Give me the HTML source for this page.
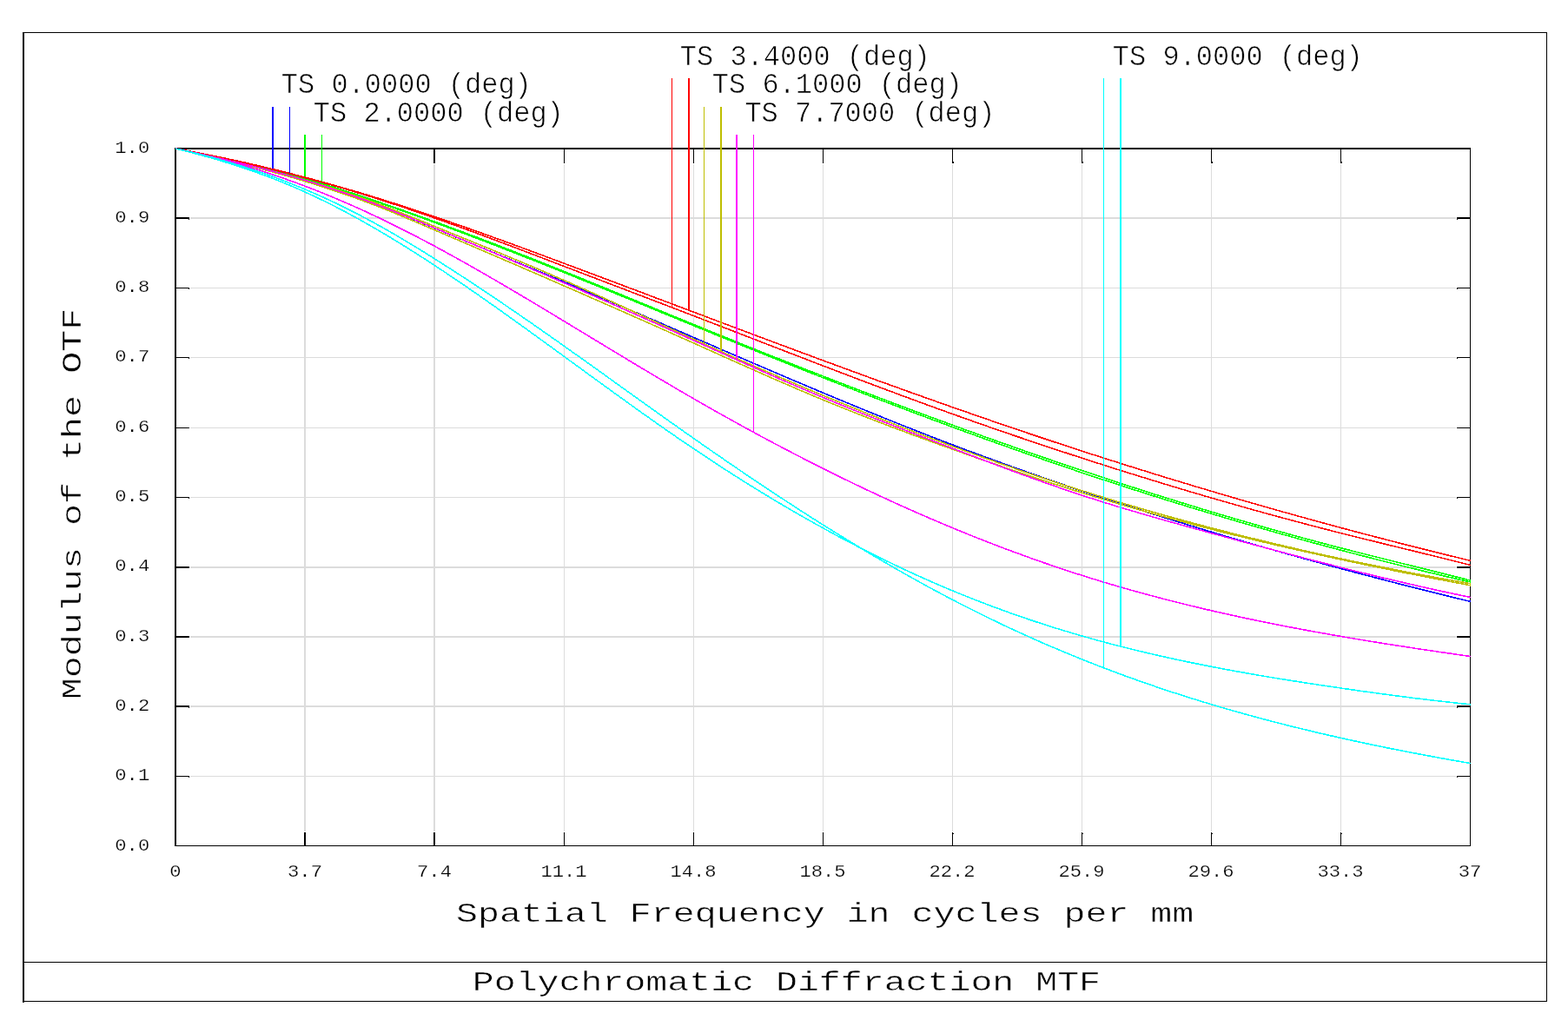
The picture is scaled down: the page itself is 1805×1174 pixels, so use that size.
<!DOCTYPE html>
<html lang="en"><head><meta charset="utf-8"><title>Polychromatic Diffraction MTF</title>
<style>
html,body{margin:0;padding:0;background:#fff}
svg{display:block}
text{font-family:"Liberation Mono","DejaVu Sans Mono",monospace;fill:#000}
.big{font-size:33px;stroke:#fff;stroke-width:0.6px}
.ax{font-size:32px;stroke:#fff;stroke-width:0.45px}
.tk{font-size:21px;stroke:#fff;stroke-width:0.25px}
.cv{fill:none;stroke-width:1.6;stroke-linejoin:round}
</style></head><body>
<svg width="1805" height="1174" viewBox="0 0 1805 1174" role="img" aria-label="Polychromatic Diffraction MTF plot">
<rect width="1805" height="1174" fill="#fff"/>
<g shape-rendering="crispEdges">
<rect x="26" y="37" width="2" height="1117" fill="#000"/>
<rect x="26" y="37" width="1755" height="1" fill="#000"/>
<rect x="1780" y="37" width="1" height="1116" fill="#000"/>
<rect x="26" y="1152" width="1755" height="1" fill="#000"/>
<rect x="26" y="1107" width="1755" height="1" fill="#000"/>
<rect x="350" y="189" width="2" height="768" fill="#dcdcdc"/>
<rect x="499" y="189" width="2" height="768" fill="#dcdcdc"/>
<rect x="649" y="189" width="1" height="768" fill="#dcdcdc"/>
<rect x="798" y="189" width="1" height="768" fill="#dcdcdc"/>
<rect x="947" y="189" width="1" height="768" fill="#dcdcdc"/>
<rect x="1096" y="189" width="1" height="768" fill="#dcdcdc"/>
<rect x="1245" y="189" width="1" height="768" fill="#dcdcdc"/>
<rect x="1394" y="189" width="1" height="768" fill="#dcdcdc"/>
<rect x="1543" y="189" width="1" height="768" fill="#dcdcdc"/>
<rect x="219" y="893" width="1457" height="1" fill="#dcdcdc"/>
<rect x="219" y="812" width="1457" height="2" fill="#dcdcdc"/>
<rect x="219" y="732" width="1457" height="2" fill="#dcdcdc"/>
<rect x="219" y="652" width="1457" height="2" fill="#dcdcdc"/>
<rect x="219" y="572" width="1457" height="1" fill="#dcdcdc"/>
<rect x="219" y="492" width="1457" height="1" fill="#dcdcdc"/>
<rect x="219" y="411" width="1457" height="1" fill="#dcdcdc"/>
<rect x="219" y="331" width="1457" height="1" fill="#dcdcdc"/>
<rect x="219" y="250" width="1457" height="2" fill="#dcdcdc"/>
<rect x="350" y="172" width="2" height="16" fill="#000"/>
<rect x="350" y="958" width="2" height="15" fill="#000"/>
<rect x="499" y="172" width="2" height="16" fill="#000"/>
<rect x="499" y="958" width="2" height="15" fill="#000"/>
<rect x="649" y="172" width="1" height="16" fill="#000"/>
<rect x="649" y="958" width="1" height="15" fill="#000"/>
<rect x="798" y="172" width="1" height="16" fill="#000"/>
<rect x="798" y="958" width="1" height="15" fill="#000"/>
<rect x="947" y="172" width="1" height="16" fill="#000"/>
<rect x="947" y="958" width="1" height="15" fill="#000"/>
<rect x="1096" y="172" width="1" height="16" fill="#000"/>
<rect x="1097" y="186" width="1" height="2" fill="#000"/>
<rect x="1096" y="958" width="1" height="15" fill="#000"/>
<rect x="1097" y="959" width="1" height="1" fill="#000"/>
<rect x="1245" y="172" width="1" height="16" fill="#000"/>
<rect x="1246" y="186" width="1" height="2" fill="#000"/>
<rect x="1245" y="958" width="1" height="15" fill="#000"/>
<rect x="1246" y="959" width="1" height="1" fill="#000"/>
<rect x="1394" y="172" width="1" height="16" fill="#000"/>
<rect x="1395" y="186" width="1" height="2" fill="#000"/>
<rect x="1394" y="958" width="1" height="15" fill="#000"/>
<rect x="1395" y="959" width="1" height="1" fill="#000"/>
<rect x="1543" y="172" width="1" height="16" fill="#000"/>
<rect x="1544" y="186" width="1" height="2" fill="#000"/>
<rect x="1543" y="958" width="1" height="15" fill="#000"/>
<rect x="1544" y="959" width="1" height="1" fill="#000"/>
<rect x="203" y="893" width="15" height="1" fill="#000"/>
<rect x="217" y="894" width="1" height="1" fill="#000"/>
<rect x="1677" y="893" width="15" height="1" fill="#000"/>
<rect x="1677" y="894" width="1" height="1" fill="#000"/>
<rect x="203" y="812" width="15" height="2" fill="#000"/>
<rect x="217" y="814" width="1" height="1" fill="#000"/>
<rect x="1677" y="812" width="15" height="2" fill="#000"/>
<rect x="1677" y="814" width="1" height="1" fill="#000"/>
<rect x="203" y="732" width="15" height="2" fill="#000"/>
<rect x="1677" y="732" width="15" height="2" fill="#000"/>
<rect x="203" y="652" width="15" height="2" fill="#000"/>
<rect x="1677" y="652" width="15" height="2" fill="#000"/>
<rect x="203" y="572" width="15" height="1" fill="#000"/>
<rect x="217" y="573" width="1" height="1" fill="#000"/>
<rect x="1677" y="572" width="15" height="1" fill="#000"/>
<rect x="1677" y="573" width="1" height="1" fill="#000"/>
<rect x="203" y="492" width="15" height="1" fill="#000"/>
<rect x="1677" y="492" width="15" height="1" fill="#000"/>
<rect x="203" y="411" width="15" height="1" fill="#000"/>
<rect x="217" y="412" width="1" height="1" fill="#000"/>
<rect x="1677" y="411" width="15" height="1" fill="#000"/>
<rect x="1677" y="412" width="1" height="1" fill="#000"/>
<rect x="203" y="331" width="15" height="1" fill="#000"/>
<rect x="217" y="332" width="1" height="1" fill="#000"/>
<rect x="1677" y="331" width="15" height="1" fill="#000"/>
<rect x="1677" y="332" width="1" height="1" fill="#000"/>
<rect x="203" y="250" width="15" height="2" fill="#000"/>
<rect x="217" y="252" width="1" height="1" fill="#000"/>
<rect x="1677" y="250" width="15" height="2" fill="#000"/>
<rect x="1677" y="252" width="1" height="1" fill="#000"/>
<rect x="201" y="170" width="2" height="804" fill="#000"/>
<rect x="201" y="170" width="1492" height="2" fill="#000"/>
<rect x="1692" y="170" width="1" height="804" fill="#000"/>
<rect x="201" y="973" width="1492" height="1" fill="#000"/>
<polyline class="cv" stroke="#0000ff" points="202,171 205,171.7 208,172.3 211,173 214,173.6 217,174.3 220,174.9 223,175.6 226,176.3 229,176.9 232,177.6 235,178.3 238,178.9 241,179.6 244,180.3 247,181 250,181.7 253,182.3 256,183 259,183.7 262,184.4 265,185.1 268,185.8 271,186.5 274,187.3 277,188 280,188.7 283,189.4 286,190.2 289,190.9 292,191.6 295,192.4 298,193.1 301,193.9 304,194.7 307,195.4 310,196.2 313,197 316,197.8 319,198.6 322,199.4 325,200.2 328,201 331,201.8 334,202.7 337,203.5 340,204.3 343,205.2 346,206 349,206.9 352,207.8 355,208.7 358,209.6 361,210.5 364,211.4 367,212.3 370,213.2 373,214.2 376,215.1 379,216.1 382,217 385,218 388,219 391,220 394,221 397,222 400,223 403,224.1 406,225.1 409,226.2 412,227.2 415,228.3 418,229.4 421,230.5 424,231.6 427,232.8 430,233.9 433,235 436,236.2 439,237.4 442,238.6 445,239.8 448,240.9 451,242.2 454,243.4 457,244.6 460,245.8 463,247 466,248.3 469,249.5 472,250.8 475,252 478,253.3 481,254.5 484,255.8 487,257 490,258.3 493,259.6 496,260.8 499,262.1 502,263.3 505,264.6 508,265.8 511,267.1 514,268.3 517,269.6 520,270.8 523,272.1 526,273.3 529,274.6 532,275.8 535,277.1 538,278.3 541,279.5 544,280.8 547,282 550,283.3 553,284.5 556,285.7 559,287 562,288.2 565,289.5 568,290.7 571,291.9 574,293.2 577,294.4 580,295.7 583,296.9 586,298.1 589,299.4 592,300.6 595,301.9 598,303.1 601,304.3 604,305.6 607,306.8 610,308.1 613,309.3 616,310.5 619,311.8 622,313 625,314.3 628,315.5 631,316.8 634,318 637,319.3 640,320.5 643,321.8 646,323.1 649,324.3 652,325.6 655,326.8 658,328.1 661,329.4 664,330.6 667,331.9 670,333.2 673,334.4 676,335.7 679,337 682,338.3 685,339.5 688,340.8 691,342.1 694,343.4 697,344.6 700,345.9 703,347.2 706,348.5 709,349.8 712,351.1 715,352.4 718,353.6 721,354.9 724,356.2 727,357.5 730,358.8 733,360.1 736,361.4 739,362.7 742,364 745,365.3 748,366.6 751,367.8 754,369.1 757,370.4 760,371.7 763,373 766,374.3 769,375.6 772,376.9 775,378.2 778,379.5 781,380.8 784,382.1 787,383.4 790,384.7 793,386 796,387.3 799,388.6 802,389.9 805,391.2 808,392.5 811,393.8 814,395.1 817,396.4 820,397.7 823,399 826,400.3 829,401.6 832,402.9 835,404.2 838,405.5 841,406.8 844,408 847,409.3 850,410.6 853,411.9 856,413.2 859,414.5 862,415.8 865,417.1 868,418.4 871,419.7 874,420.9 877,422.2 880,423.5 883,424.8 886,426.1 889,427.4 892,428.7 895,429.9 898,431.2 901,432.5 904,433.8 907,435 910,436.3 913,437.6 916,438.9 919,440.1 922,441.4 925,442.7 928,443.9 931,445.2 934,446.5 937,447.7 940,449 943,450.3 946,451.5 949,452.8 952,454 955,455.3 958,456.5 961,457.8 964,459 967,460.3 970,461.5 973,462.8 976,464 979,465.2 982,466.5 985,467.7 988,468.9 991,470.2 994,471.4 997,472.6 1000,473.9 1003,475.1 1006,476.3 1009,477.5 1012,478.7 1015,480 1018,481.2 1021,482.4 1024,483.6 1027,484.8 1030,486 1033,487.2 1036,488.4 1039,489.6 1042,490.8 1045,492 1048,493.1 1051,494.3 1054,495.5 1057,496.7 1060,497.9 1063,499 1066,500.2 1069,501.4 1072,502.6 1075,503.7 1078,504.9 1081,506 1084,507.2 1087,508.3 1090,509.5 1093,510.6 1096,511.8 1099,512.9 1102,514 1105,515.2 1108,516.3 1111,517.4 1114,518.6 1117,519.7 1120,520.8 1123,521.9 1126,523 1129,524.1 1132,525.2 1135,526.3 1138,527.4 1141,528.5 1144,529.6 1147,530.7 1150,531.8 1153,532.9 1156,534 1159,535.1 1162,536.1 1165,537.2 1168,538.3 1171,539.4 1174,540.4 1177,541.5 1180,542.5 1183,543.6 1186,544.7 1189,545.7 1192,546.8 1195,547.8 1198,548.9 1201,549.9 1204,550.9 1207,552 1210,553 1213,554 1216,555.1 1219,556.1 1222,557.1 1225,558.1 1228,559.2 1231,560.2 1234,561.2 1237,562.2 1240,563.2 1243,564.2 1246,565.2 1249,566.2 1252,567.2 1255,568.2 1258,569.2 1261,570.2 1264,571.2 1267,572.2 1270,573.2 1273,574.2 1276,575.2 1279,576.2 1282,577.1 1285,578.1 1288,579.1 1291,580.1 1294,581 1297,582 1300,583 1303,583.9 1306,584.9 1309,585.8 1312,586.8 1315,587.7 1318,588.7 1321,589.7 1324,590.6 1327,591.5 1330,592.5 1333,593.4 1336,594.4 1339,595.3 1342,596.2 1345,597.2 1348,598.1 1351,599 1354,600 1357,600.9 1360,601.8 1363,602.7 1366,603.6 1369,604.6 1372,605.5 1375,606.4 1378,607.3 1381,608.2 1384,609.1 1387,610 1390,610.9 1393,611.8 1396,612.7 1399,613.6 1402,614.5 1405,615.4 1408,616.3 1411,617.2 1414,618 1417,618.9 1420,619.8 1423,620.7 1426,621.6 1429,622.4 1432,623.3 1435,624.2 1438,625.1 1441,625.9 1444,626.8 1447,627.7 1450,628.5 1453,629.4 1456,630.2 1459,631.1 1462,631.9 1465,632.8 1468,633.6 1471,634.5 1474,635.3 1477,636.2 1480,637 1483,637.9 1486,638.7 1489,639.5 1492,640.4 1495,641.2 1498,642 1501,642.9 1504,643.7 1507,644.5 1510,645.4 1513,646.2 1516,647 1519,647.8 1522,648.6 1525,649.5 1528,650.3 1531,651.1 1534,651.9 1537,652.7 1540,653.5 1543,654.3 1546,655.1 1549,655.9 1552,656.7 1555,657.5 1558,658.3 1561,659.1 1564,659.9 1567,660.7 1570,661.5 1573,662.3 1576,663 1579,663.8 1582,664.6 1585,665.4 1588,666.2 1591,666.9 1594,667.7 1597,668.5 1600,669.3 1603,670 1606,670.8 1609,671.6 1612,672.3 1615,673.1 1618,673.9 1621,674.6 1624,675.4 1627,676.2 1630,676.9 1633,677.7 1636,678.4 1639,679.2 1642,679.9 1645,680.7 1648,681.4 1651,682.2 1654,682.9 1657,683.6 1660,684.4 1663,685.1 1666,685.9 1669,686.6 1672,687.3 1675,688.1 1678,688.8 1681,689.5 1684,690.3 1687,691 1690,691.7 1693,692.4"/>
<rect x="313" y="123" width="2" height="74" fill="#0000ff"/>
<rect x="333" y="123" width="1" height="80" fill="#0000ff"/>
<polyline class="cv" stroke="#00ff00" points="202,171 205,171.6 208,172.3 211,172.9 214,173.5 217,174.1 220,174.8 223,175.4 226,176 229,176.6 232,177.3 235,177.9 238,178.5 241,179.2 244,179.8 247,180.5 250,181.1 253,181.7 256,182.4 259,183 262,183.7 265,184.4 268,185 271,185.7 274,186.4 277,187 280,187.7 283,188.4 286,189.1 289,189.8 292,190.5 295,191.2 298,191.9 301,192.6 304,193.4 307,194.1 310,194.8 313,195.6 316,196.3 319,197.1 322,197.8 325,198.6 328,199.4 331,200.2 334,201 337,201.8 340,202.6 343,203.4 346,204.2 349,205.1 352,205.9 355,206.8 358,207.6 361,208.5 364,209.4 367,210.3 370,211.2 373,212.1 376,213 379,213.9 382,214.8 385,215.8 388,216.7 391,217.7 394,218.6 397,219.6 400,220.6 403,221.5 406,222.5 409,223.5 412,224.5 415,225.5 418,226.5 421,227.5 424,228.5 427,229.5 430,230.5 433,231.5 436,232.5 439,233.5 442,234.6 445,235.6 448,236.6 451,237.7 454,238.7 457,239.7 460,240.8 463,241.8 466,242.9 469,243.9 472,245 475,246.1 478,247.1 481,248.2 484,249.3 487,250.3 490,251.4 493,252.5 496,253.6 499,254.7 502,255.7 505,256.8 508,257.9 511,259 514,260.1 517,261.2 520,262.3 523,263.4 526,264.6 529,265.7 532,266.8 535,267.9 538,269 541,270.2 544,271.3 547,272.4 550,273.5 553,274.7 556,275.8 559,277 562,278.1 565,279.2 568,280.4 571,281.5 574,282.7 577,283.9 580,285 583,286.2 586,287.3 589,288.5 592,289.7 595,290.8 598,292 601,293.2 604,294.4 607,295.5 610,296.7 613,297.9 616,299.1 619,300.3 622,301.5 625,302.6 628,303.8 631,305 634,306.2 637,307.4 640,308.6 643,309.8 646,311 649,312.2 652,313.4 655,314.7 658,315.9 661,317.1 664,318.3 667,319.5 670,320.7 673,321.9 676,323.2 679,324.4 682,325.6 685,326.8 688,328.1 691,329.3 694,330.5 697,331.7 700,333 703,334.2 706,335.4 709,336.7 712,337.9 715,339.1 718,340.4 721,341.6 724,342.8 727,344.1 730,345.3 733,346.5 736,347.8 739,349 742,350.2 745,351.5 748,352.7 751,353.9 754,355.2 757,356.4 760,357.6 763,358.9 766,360.1 769,361.3 772,362.6 775,363.8 778,365 781,366.3 784,367.5 787,368.7 790,370 793,371.2 796,372.4 799,373.6 802,374.9 805,376.1 808,377.3 811,378.5 814,379.8 817,381 820,382.2 823,383.4 826,384.6 829,385.9 832,387.1 835,388.3 838,389.5 841,390.7 844,391.9 847,393.1 850,394.4 853,395.6 856,396.8 859,398 862,399.2 865,400.4 868,401.6 871,402.8 874,404 877,405.2 880,406.4 883,407.6 886,408.8 889,410 892,411.2 895,412.3 898,413.5 901,414.7 904,415.9 907,417.1 910,418.3 913,419.5 916,420.7 919,421.8 922,423 925,424.2 928,425.4 931,426.6 934,427.7 937,428.9 940,430.1 943,431.2 946,432.4 949,433.6 952,434.8 955,435.9 958,437.1 961,438.3 964,439.4 967,440.6 970,441.7 973,442.9 976,444.1 979,445.2 982,446.4 985,447.5 988,448.7 991,449.8 994,451 997,452.1 1000,453.3 1003,454.4 1006,455.5 1009,456.7 1012,457.8 1015,459 1018,460.1 1021,461.2 1024,462.4 1027,463.5 1030,464.6 1033,465.8 1036,466.9 1039,468 1042,469.1 1045,470.3 1048,471.4 1051,472.5 1054,473.6 1057,474.7 1060,475.9 1063,477 1066,478.1 1069,479.2 1072,480.3 1075,481.4 1078,482.5 1081,483.6 1084,484.7 1087,485.8 1090,486.9 1093,488 1096,489.1 1099,490.2 1102,491.3 1105,492.4 1108,493.5 1111,494.6 1114,495.7 1117,496.8 1120,497.8 1123,498.9 1126,500 1129,501.1 1132,502.2 1135,503.2 1138,504.3 1141,505.4 1144,506.5 1147,507.5 1150,508.6 1153,509.7 1156,510.7 1159,511.8 1162,512.8 1165,513.9 1168,515 1171,516 1174,517.1 1177,518.1 1180,519.2 1183,520.2 1186,521.3 1189,522.3 1192,523.3 1195,524.4 1198,525.4 1201,526.5 1204,527.5 1207,528.5 1210,529.5 1213,530.6 1216,531.6 1219,532.6 1222,533.6 1225,534.7 1228,535.7 1231,536.7 1234,537.7 1237,538.7 1240,539.7 1243,540.8 1246,541.8 1249,542.8 1252,543.8 1255,544.8 1258,545.8 1261,546.8 1264,547.8 1267,548.8 1270,549.8 1273,550.7 1276,551.7 1279,552.7 1282,553.7 1285,554.7 1288,555.7 1291,556.6 1294,557.6 1297,558.6 1300,559.6 1303,560.5 1306,561.5 1309,562.5 1312,563.4 1315,564.4 1318,565.3 1321,566.3 1324,567.2 1327,568.2 1330,569.2 1333,570.1 1336,571 1339,572 1342,572.9 1345,573.9 1348,574.8 1351,575.7 1354,576.7 1357,577.6 1360,578.5 1363,579.5 1366,580.4 1369,581.3 1372,582.2 1375,583.1 1378,584.1 1381,585 1384,585.9 1387,586.8 1390,587.7 1393,588.6 1396,589.5 1399,590.4 1402,591.3 1405,592.2 1408,593.1 1411,594 1414,594.8 1417,595.7 1420,596.6 1423,597.5 1426,598.4 1429,599.2 1432,600.1 1435,601 1438,601.8 1441,602.7 1444,603.6 1447,604.4 1450,605.3 1453,606.1 1456,607 1459,607.9 1462,608.7 1465,609.5 1468,610.4 1471,611.2 1474,612.1 1477,612.9 1480,613.7 1483,614.6 1486,615.4 1489,616.2 1492,617 1495,617.9 1498,618.7 1501,619.5 1504,620.3 1507,621.1 1510,621.9 1513,622.7 1516,623.5 1519,624.3 1522,625.1 1525,625.9 1528,626.7 1531,627.5 1534,628.3 1537,629.1 1540,629.8 1543,630.6 1546,631.4 1549,632.2 1552,632.9 1555,633.7 1558,634.5 1561,635.2 1564,636 1567,636.7 1570,637.5 1573,638.3 1576,639 1579,639.8 1582,640.5 1585,641.3 1588,642 1591,642.8 1594,643.5 1597,644.3 1600,645 1603,645.7 1606,646.5 1609,647.2 1612,648 1615,648.7 1618,649.5 1621,650.2 1624,650.9 1627,651.7 1630,652.4 1633,653.2 1636,653.9 1639,654.6 1642,655.4 1645,656.1 1648,656.9 1651,657.6 1654,658.4 1657,659.1 1660,659.9 1663,660.6 1666,661.4 1669,662.1 1672,662.9 1675,663.7 1678,664.4 1681,665.2 1684,665.9 1687,666.7 1690,667.5 1693,668.3"/>
<polyline class="cv" stroke="#00ff00" points="202,171 205,171.6 208,172.2 211,172.8 214,173.4 217,174 220,174.6 223,175.2 226,175.8 229,176.4 232,177.1 235,177.7 238,178.3 241,179 244,179.6 247,180.3 250,180.9 253,181.6 256,182.3 259,182.9 262,183.6 265,184.3 268,185 271,185.7 274,186.4 277,187.1 280,187.8 283,188.5 286,189.2 289,190 292,190.7 295,191.4 298,192.2 301,192.9 304,193.7 307,194.4 310,195.2 313,196 316,196.8 319,197.5 322,198.3 325,199.1 328,199.9 331,200.8 334,201.6 337,202.4 340,203.2 343,204.1 346,204.9 349,205.8 352,206.6 355,207.5 358,208.3 361,209.2 364,210.1 367,211 370,211.9 373,212.8 376,213.7 379,214.6 382,215.5 385,216.5 388,217.4 391,218.3 394,219.3 397,220.2 400,221.2 403,222.2 406,223.1 409,224.1 412,225.1 415,226.1 418,227.1 421,228.1 424,229.1 427,230.1 430,231.1 433,232.1 436,233.1 439,234.2 442,235.2 445,236.3 448,237.3 451,238.3 454,239.4 457,240.5 460,241.5 463,242.6 466,243.7 469,244.7 472,245.8 475,246.9 478,248 481,249.1 484,250.1 487,251.2 490,252.3 493,253.4 496,254.5 499,255.6 502,256.7 505,257.9 508,259 511,260.1 514,261.2 517,262.3 520,263.4 523,264.6 526,265.7 529,266.8 532,267.9 535,269.1 538,270.2 541,271.3 544,272.5 547,273.6 550,274.8 553,275.9 556,277 559,278.2 562,279.3 565,280.5 568,281.7 571,282.8 574,284 577,285.1 580,286.3 583,287.5 586,288.6 589,289.8 592,291 595,292.1 598,293.3 601,294.5 604,295.7 607,296.9 610,298 613,299.2 616,300.4 619,301.6 622,302.8 625,304 628,305.2 631,306.4 634,307.6 637,308.8 640,310 643,311.2 646,312.4 649,313.6 652,314.8 655,316 658,317.2 661,318.4 664,319.6 667,320.9 670,322.1 673,323.3 676,324.5 679,325.7 682,327 685,328.2 688,329.4 691,330.6 694,331.9 697,333.1 700,334.3 703,335.6 706,336.8 709,338 712,339.3 715,340.5 718,341.7 721,343 724,344.2 727,345.4 730,346.7 733,347.9 736,349.1 739,350.4 742,351.6 745,352.8 748,354.1 751,355.3 754,356.6 757,357.8 760,359 763,360.3 766,361.5 769,362.7 772,364 775,365.2 778,366.4 781,367.7 784,368.9 787,370.1 790,371.4 793,372.6 796,373.8 799,375.1 802,376.3 805,377.5 808,378.8 811,380 814,381.2 817,382.4 820,383.7 823,384.9 826,386.1 829,387.3 832,388.6 835,389.8 838,391 841,392.2 844,393.4 847,394.6 850,395.9 853,397.1 856,398.3 859,399.5 862,400.7 865,401.9 868,403.1 871,404.3 874,405.6 877,406.8 880,408 883,409.2 886,410.4 889,411.6 892,412.8 895,414 898,415.2 901,416.4 904,417.6 907,418.8 910,420 913,421.2 916,422.3 919,423.5 922,424.7 925,425.9 928,427.1 931,428.3 934,429.5 937,430.7 940,431.8 943,433 946,434.2 949,435.4 952,436.5 955,437.7 958,438.9 961,440.1 964,441.2 967,442.4 970,443.6 973,444.8 976,445.9 979,447.1 982,448.2 985,449.4 988,450.6 991,451.7 994,452.9 997,454 1000,455.2 1003,456.4 1006,457.5 1009,458.7 1012,459.8 1015,461 1018,462.1 1021,463.2 1024,464.4 1027,465.5 1030,466.7 1033,467.8 1036,468.9 1039,470.1 1042,471.2 1045,472.3 1048,473.5 1051,474.6 1054,475.7 1057,476.9 1060,478 1063,479.1 1066,480.2 1069,481.4 1072,482.5 1075,483.6 1078,484.7 1081,485.8 1084,486.9 1087,488 1090,489.1 1093,490.3 1096,491.4 1099,492.5 1102,493.6 1105,494.7 1108,495.8 1111,496.9 1114,497.9 1117,499 1120,500.1 1123,501.2 1126,502.3 1129,503.4 1132,504.5 1135,505.6 1138,506.6 1141,507.7 1144,508.8 1147,509.9 1150,510.9 1153,512 1156,513.1 1159,514.1 1162,515.2 1165,516.3 1168,517.3 1171,518.4 1174,519.4 1177,520.5 1180,521.5 1183,522.6 1186,523.6 1189,524.7 1192,525.7 1195,526.8 1198,527.8 1201,528.9 1204,529.9 1207,530.9 1210,532 1213,533 1216,534 1219,535 1222,536.1 1225,537.1 1228,538.1 1231,539.1 1234,540.1 1237,541.2 1240,542.2 1243,543.2 1246,544.2 1249,545.2 1252,546.2 1255,547.2 1258,548.2 1261,549.2 1264,550.2 1267,551.2 1270,552.2 1273,553.1 1276,554.1 1279,555.1 1282,556.1 1285,557.1 1288,558 1291,559 1294,560 1297,561 1300,561.9 1303,562.9 1306,563.9 1309,564.8 1312,565.8 1315,566.7 1318,567.7 1321,568.6 1324,569.6 1327,570.5 1330,571.5 1333,572.4 1336,573.4 1339,574.3 1342,575.2 1345,576.2 1348,577.1 1351,578 1354,579 1357,579.9 1360,580.8 1363,581.7 1366,582.7 1369,583.6 1372,584.5 1375,585.4 1378,586.3 1381,587.2 1384,588.1 1387,589 1390,589.9 1393,590.8 1396,591.7 1399,592.6 1402,593.5 1405,594.4 1408,595.3 1411,596.2 1414,597.1 1417,598 1420,598.8 1423,599.7 1426,600.6 1429,601.5 1432,602.4 1435,603.2 1438,604.1 1441,605 1444,605.8 1447,606.7 1450,607.5 1453,608.4 1456,609.2 1459,610.1 1462,611 1465,611.8 1468,612.6 1471,613.5 1474,614.3 1477,615.2 1480,616 1483,616.8 1486,617.7 1489,618.5 1492,619.3 1495,620.2 1498,621 1501,621.8 1504,622.6 1507,623.5 1510,624.3 1513,625.1 1516,625.9 1519,626.7 1522,627.5 1525,628.3 1528,629.1 1531,629.9 1534,630.7 1537,631.5 1540,632.3 1543,633.1 1546,633.9 1549,634.7 1552,635.5 1555,636.3 1558,637 1561,637.8 1564,638.6 1567,639.4 1570,640.1 1573,640.9 1576,641.7 1579,642.4 1582,643.2 1585,644 1588,644.7 1591,645.5 1594,646.2 1597,647 1600,647.8 1603,648.5 1606,649.3 1609,650 1612,650.7 1615,651.5 1618,652.2 1621,653 1624,653.7 1627,654.4 1630,655.2 1633,655.9 1636,656.6 1639,657.3 1642,658.1 1645,658.8 1648,659.5 1651,660.2 1654,660.9 1657,661.6 1660,662.3 1663,663.1 1666,663.8 1669,664.5 1672,665.2 1675,665.9 1678,666.6 1681,667.3 1684,667.9 1687,668.6 1690,669.3 1693,670"/>
<rect x="350" y="155" width="2" height="51" fill="#00ff00"/>
<rect x="370" y="155" width="1" height="57" fill="#00ff00"/>
<polyline class="cv" stroke="#ff0000" points="202,171 205,171.5 208,172.1 211,172.6 214,173.2 217,173.8 220,174.3 223,174.9 226,175.5 229,176.1 232,176.7 235,177.3 238,177.9 241,178.5 244,179.1 247,179.7 250,180.3 253,180.9 256,181.6 259,182.2 262,182.8 265,183.5 268,184.1 271,184.8 274,185.4 277,186.1 280,186.8 283,187.4 286,188.1 289,188.8 292,189.5 295,190.2 298,190.9 301,191.6 304,192.3 307,193 310,193.7 313,194.5 316,195.2 319,195.9 322,196.7 325,197.4 328,198.2 331,198.9 334,199.7 337,200.4 340,201.2 343,202 346,202.8 349,203.5 352,204.3 355,205.1 358,205.9 361,206.7 364,207.5 367,208.3 370,209.2 373,210 376,210.8 379,211.6 382,212.5 385,213.3 388,214.2 391,215 394,215.9 397,216.8 400,217.6 403,218.5 406,219.4 409,220.3 412,221.1 415,222 418,222.9 421,223.8 424,224.8 427,225.7 430,226.6 433,227.5 436,228.4 439,229.4 442,230.3 445,231.3 448,232.2 451,233.2 454,234.1 457,235.1 460,236 463,237 466,238 469,239 472,239.9 475,240.9 478,241.9 481,242.9 484,243.9 487,244.9 490,245.9 493,246.9 496,247.9 499,249 502,250 505,251 508,252 511,253.1 514,254.1 517,255.1 520,256.2 523,257.2 526,258.3 529,259.3 532,260.4 535,261.4 538,262.5 541,263.5 544,264.6 547,265.7 550,266.7 553,267.8 556,268.9 559,269.9 562,271 565,272.1 568,273.2 571,274.3 574,275.4 577,276.4 580,277.5 583,278.6 586,279.7 589,280.8 592,281.9 595,283 598,284.1 601,285.2 604,286.3 607,287.4 610,288.5 613,289.7 616,290.8 619,291.9 622,293 625,294.1 628,295.2 631,296.3 634,297.4 637,298.6 640,299.7 643,300.8 646,301.9 649,303 652,304.2 655,305.3 658,306.4 661,307.5 664,308.6 667,309.8 670,310.9 673,312 676,313.1 679,314.3 682,315.4 685,316.5 688,317.6 691,318.8 694,319.9 697,321 700,322.1 703,323.3 706,324.4 709,325.5 712,326.6 715,327.8 718,328.9 721,330 724,331.2 727,332.3 730,333.4 733,334.5 736,335.7 739,336.8 742,337.9 745,339.1 748,340.2 751,341.3 754,342.5 757,343.6 760,344.7 763,345.8 766,347 769,348.1 772,349.2 775,350.4 778,351.5 781,352.6 784,353.8 787,354.9 790,356 793,357.1 796,358.3 799,359.4 802,360.5 805,361.7 808,362.8 811,363.9 814,365.1 817,366.2 820,367.3 823,368.4 826,369.6 829,370.7 832,371.8 835,373 838,374.1 841,375.2 844,376.3 847,377.5 850,378.6 853,379.7 856,380.8 859,382 862,383.1 865,384.2 868,385.3 871,386.5 874,387.6 877,388.7 880,389.8 883,391 886,392.1 889,393.2 892,394.3 895,395.4 898,396.6 901,397.7 904,398.8 907,399.9 910,401 913,402.1 916,403.3 919,404.4 922,405.5 925,406.6 928,407.7 931,408.8 934,409.9 937,411.1 940,412.2 943,413.3 946,414.4 949,415.5 952,416.6 955,417.7 958,418.8 961,419.9 964,421 967,422.1 970,423.2 973,424.3 976,425.4 979,426.5 982,427.6 985,428.7 988,429.8 991,430.9 994,432 997,433.1 1000,434.2 1003,435.3 1006,436.4 1009,437.5 1012,438.6 1015,439.6 1018,440.7 1021,441.8 1024,442.9 1027,444 1030,445.1 1033,446.1 1036,447.2 1039,448.3 1042,449.4 1045,450.5 1048,451.5 1051,452.6 1054,453.7 1057,454.7 1060,455.8 1063,456.9 1066,458 1069,459 1072,460.1 1075,461.1 1078,462.2 1081,463.3 1084,464.3 1087,465.4 1090,466.4 1093,467.5 1096,468.6 1099,469.6 1102,470.7 1105,471.7 1108,472.8 1111,473.8 1114,474.8 1117,475.9 1120,476.9 1123,478 1126,479 1129,480 1132,481.1 1135,482.1 1138,483.1 1141,484.2 1144,485.2 1147,486.2 1150,487.3 1153,488.3 1156,489.3 1159,490.3 1162,491.4 1165,492.4 1168,493.4 1171,494.4 1174,495.4 1177,496.4 1180,497.4 1183,498.5 1186,499.5 1189,500.5 1192,501.5 1195,502.5 1198,503.5 1201,504.5 1204,505.5 1207,506.5 1210,507.5 1213,508.5 1216,509.5 1219,510.4 1222,511.4 1225,512.4 1228,513.4 1231,514.4 1234,515.4 1237,516.3 1240,517.3 1243,518.3 1246,519.3 1249,520.2 1252,521.2 1255,522.2 1258,523.2 1261,524.1 1264,525.1 1267,526 1270,527 1273,528 1276,528.9 1279,529.9 1282,530.8 1285,531.8 1288,532.7 1291,533.7 1294,534.6 1297,535.6 1300,536.5 1303,537.5 1306,538.4 1309,539.3 1312,540.3 1315,541.2 1318,542.1 1321,543.1 1324,544 1327,544.9 1330,545.9 1333,546.8 1336,547.7 1339,548.6 1342,549.6 1345,550.5 1348,551.4 1351,552.3 1354,553.2 1357,554.1 1360,555 1363,555.9 1366,556.8 1369,557.7 1372,558.7 1375,559.6 1378,560.5 1381,561.3 1384,562.2 1387,563.1 1390,564 1393,564.9 1396,565.8 1399,566.7 1402,567.6 1405,568.5 1408,569.3 1411,570.2 1414,571.1 1417,572 1420,572.9 1423,573.7 1426,574.6 1429,575.5 1432,576.3 1435,577.2 1438,578.1 1441,578.9 1444,579.8 1447,580.7 1450,581.5 1453,582.4 1456,583.2 1459,584.1 1462,584.9 1465,585.8 1468,586.6 1471,587.5 1474,588.3 1477,589.2 1480,590 1483,590.8 1486,591.7 1489,592.5 1492,593.4 1495,594.2 1498,595 1501,595.8 1504,596.7 1507,597.5 1510,598.3 1513,599.1 1516,600 1519,600.8 1522,601.6 1525,602.4 1528,603.2 1531,604 1534,604.9 1537,605.7 1540,606.5 1543,607.3 1546,608.1 1549,608.9 1552,609.7 1555,610.5 1558,611.3 1561,612.1 1564,612.9 1567,613.7 1570,614.5 1573,615.2 1576,616 1579,616.8 1582,617.6 1585,618.4 1588,619.2 1591,619.9 1594,620.7 1597,621.5 1600,622.3 1603,623 1606,623.8 1609,624.6 1612,625.3 1615,626.1 1618,626.9 1621,627.6 1624,628.4 1627,629.1 1630,629.9 1633,630.7 1636,631.4 1639,632.2 1642,632.9 1645,633.7 1648,634.4 1651,635.1 1654,635.9 1657,636.6 1660,637.4 1663,638.1 1666,638.8 1669,639.6 1672,640.3 1675,641 1678,641.8 1681,642.5 1684,643.2 1687,644 1690,644.7 1693,645.4"/>
<polyline class="cv" stroke="#ff0000" points="202,171 205,171.6 208,172.1 211,172.7 214,173.3 217,173.9 220,174.5 223,175.1 226,175.7 229,176.3 232,176.9 235,177.5 238,178.1 241,178.7 244,179.3 247,180 250,180.6 253,181.2 256,181.9 259,182.5 262,183.2 265,183.8 268,184.5 271,185.1 274,185.8 277,186.5 280,187.2 283,187.8 286,188.5 289,189.2 292,189.9 295,190.6 298,191.3 301,192 304,192.7 307,193.5 310,194.2 313,194.9 316,195.6 319,196.4 322,197.1 325,197.9 328,198.6 331,199.4 334,200.2 337,200.9 340,201.7 343,202.5 346,203.3 349,204.1 352,204.8 355,205.7 358,206.5 361,207.3 364,208.1 367,208.9 370,209.7 373,210.6 376,211.4 379,212.2 382,213.1 385,213.9 388,214.8 391,215.7 394,216.5 397,217.4 400,218.3 403,219.2 406,220.1 409,221 412,221.9 415,222.8 418,223.7 421,224.6 424,225.6 427,226.5 430,227.4 433,228.4 436,229.3 439,230.3 442,231.3 445,232.2 448,233.2 451,234.2 454,235.2 457,236.1 460,237.1 463,238.1 466,239.1 469,240.2 472,241.2 475,242.2 478,243.2 481,244.2 484,245.3 487,246.3 490,247.3 493,248.4 496,249.4 499,250.5 502,251.5 505,252.6 508,253.7 511,254.7 514,255.8 517,256.9 520,258 523,259 526,260.1 529,261.2 532,262.3 535,263.4 538,264.5 541,265.6 544,266.7 547,267.8 550,268.9 553,270 556,271.1 559,272.3 562,273.4 565,274.5 568,275.6 571,276.7 574,277.9 577,279 580,280.1 583,281.3 586,282.4 589,283.5 592,284.7 595,285.8 598,286.9 601,288.1 604,289.2 607,290.4 610,291.5 613,292.7 616,293.8 619,294.9 622,296.1 625,297.2 628,298.4 631,299.5 634,300.7 637,301.8 640,303 643,304.1 646,305.3 649,306.4 652,307.6 655,308.7 658,309.8 661,311 664,312.1 667,313.3 670,314.4 673,315.6 676,316.7 679,317.9 682,319 685,320.1 688,321.3 691,322.4 694,323.6 697,324.7 700,325.9 703,327 706,328.2 709,329.3 712,330.4 715,331.6 718,332.7 721,333.9 724,335 727,336.2 730,337.3 733,338.5 736,339.6 739,340.7 742,341.9 745,343 748,344.2 751,345.3 754,346.5 757,347.6 760,348.8 763,349.9 766,351.1 769,352.2 772,353.4 775,354.5 778,355.7 781,356.8 784,358 787,359.1 790,360.3 793,361.4 796,362.6 799,363.7 802,364.9 805,366 808,367.2 811,368.4 814,369.5 817,370.7 820,371.8 823,373 826,374.1 829,375.3 832,376.5 835,377.6 838,378.8 841,379.9 844,381.1 847,382.3 850,383.4 853,384.6 856,385.7 859,386.9 862,388.1 865,389.2 868,390.4 871,391.5 874,392.7 877,393.9 880,395 883,396.2 886,397.3 889,398.5 892,399.7 895,400.8 898,402 901,403.1 904,404.3 907,405.5 910,406.6 913,407.8 916,408.9 919,410.1 922,411.2 925,412.4 928,413.5 931,414.7 934,415.9 937,417 940,418.2 943,419.3 946,420.5 949,421.6 952,422.8 955,423.9 958,425.1 961,426.2 964,427.3 967,428.5 970,429.6 973,430.8 976,431.9 979,433 982,434.2 985,435.3 988,436.5 991,437.6 994,438.7 997,439.9 1000,441 1003,442.1 1006,443.3 1009,444.4 1012,445.5 1015,446.6 1018,447.8 1021,448.9 1024,450 1027,451.1 1030,452.2 1033,453.3 1036,454.5 1039,455.6 1042,456.7 1045,457.8 1048,458.9 1051,460 1054,461.1 1057,462.2 1060,463.3 1063,464.4 1066,465.5 1069,466.6 1072,467.7 1075,468.8 1078,469.9 1081,470.9 1084,472 1087,473.1 1090,474.2 1093,475.3 1096,476.3 1099,477.4 1102,478.5 1105,479.5 1108,480.6 1111,481.7 1114,482.7 1117,483.8 1120,484.9 1123,485.9 1126,487 1129,488 1132,489.1 1135,490.1 1138,491.2 1141,492.2 1144,493.2 1147,494.3 1150,495.3 1153,496.3 1156,497.4 1159,498.4 1162,499.4 1165,500.5 1168,501.5 1171,502.5 1174,503.5 1177,504.5 1180,505.6 1183,506.6 1186,507.6 1189,508.6 1192,509.6 1195,510.6 1198,511.6 1201,512.6 1204,513.6 1207,514.6 1210,515.6 1213,516.6 1216,517.6 1219,518.6 1222,519.6 1225,520.5 1228,521.5 1231,522.5 1234,523.5 1237,524.5 1240,525.4 1243,526.4 1246,527.4 1249,528.4 1252,529.3 1255,530.3 1258,531.3 1261,532.2 1264,533.2 1267,534.1 1270,535.1 1273,536.1 1276,537 1279,538 1282,538.9 1285,539.9 1288,540.8 1291,541.7 1294,542.7 1297,543.6 1300,544.6 1303,545.5 1306,546.4 1309,547.4 1312,548.3 1315,549.2 1318,550.1 1321,551.1 1324,552 1327,552.9 1330,553.8 1333,554.7 1336,555.7 1339,556.6 1342,557.5 1345,558.4 1348,559.3 1351,560.2 1354,561.1 1357,562 1360,562.9 1363,563.8 1366,564.7 1369,565.6 1372,566.5 1375,567.4 1378,568.2 1381,569.1 1384,570 1387,570.9 1390,571.8 1393,572.6 1396,573.5 1399,574.4 1402,575.2 1405,576.1 1408,577 1411,577.8 1414,578.7 1417,579.5 1420,580.4 1423,581.2 1426,582.1 1429,582.9 1432,583.8 1435,584.6 1438,585.5 1441,586.3 1444,587.2 1447,588 1450,588.8 1453,589.6 1456,590.5 1459,591.3 1462,592.1 1465,592.9 1468,593.8 1471,594.6 1474,595.4 1477,596.2 1480,597 1483,597.8 1486,598.6 1489,599.4 1492,600.2 1495,601 1498,601.8 1501,602.6 1504,603.4 1507,604.2 1510,605 1513,605.8 1516,606.5 1519,607.3 1522,608.1 1525,608.9 1528,609.7 1531,610.4 1534,611.2 1537,612 1540,612.7 1543,613.5 1546,614.2 1549,615 1552,615.7 1555,616.5 1558,617.2 1561,618 1564,618.7 1567,619.5 1570,620.2 1573,621 1576,621.7 1579,622.4 1582,623.2 1585,623.9 1588,624.6 1591,625.4 1594,626.1 1597,626.8 1600,627.6 1603,628.3 1606,629 1609,629.8 1612,630.5 1615,631.2 1618,632 1621,632.7 1624,633.4 1627,634.1 1630,634.9 1633,635.6 1636,636.3 1639,637.1 1642,637.8 1645,638.5 1648,639.3 1651,640 1654,640.8 1657,641.5 1660,642.2 1663,643 1666,643.7 1669,644.5 1672,645.2 1675,646 1678,646.7 1681,647.5 1684,648.2 1687,649 1690,649.7 1693,650.5"/>
<rect x="773" y="90" width="1" height="264" fill="#ff0000"/>
<rect x="792" y="90" width="2" height="267" fill="#ff0000"/>
<polyline class="cv" stroke="#bebe00" points="202,171 205,171.6 208,172.3 211,172.9 214,173.5 217,174.2 220,174.8 223,175.5 226,176.1 229,176.8 232,177.5 235,178.1 238,178.8 241,179.5 244,180.1 247,180.8 250,181.5 253,182.2 256,182.9 259,183.6 262,184.3 265,185 268,185.7 271,186.4 274,187.1 277,187.8 280,188.5 283,189.3 286,190 289,190.7 292,191.5 295,192.2 298,193 301,193.8 304,194.5 307,195.3 310,196.1 313,196.8 316,197.6 319,198.4 322,199.2 325,200 328,200.8 331,201.6 334,202.5 337,203.3 340,204.1 343,205 346,205.8 349,206.6 352,207.5 355,208.4 358,209.2 361,210.1 364,211 367,211.9 370,212.8 373,213.7 376,214.6 379,215.5 382,216.5 385,217.4 388,218.4 391,219.3 394,220.3 397,221.3 400,222.3 403,223.3 406,224.3 409,225.3 412,226.3 415,227.3 418,228.4 421,229.5 424,230.5 427,231.6 430,232.7 433,233.8 436,234.9 439,236.1 442,237.2 445,238.4 448,239.5 451,240.7 454,241.9 457,243 460,244.2 463,245.4 466,246.6 469,247.8 472,249 475,250.2 478,251.4 481,252.7 484,253.9 487,255.1 490,256.3 493,257.5 496,258.8 499,260 502,261.2 505,262.4 508,263.7 511,264.9 514,266.1 517,267.3 520,268.6 523,269.8 526,271 529,272.2 532,273.5 535,274.7 538,275.9 541,277.1 544,278.4 547,279.6 550,280.8 553,282.1 556,283.3 559,284.5 562,285.7 565,287 568,288.2 571,289.5 574,290.7 577,291.9 580,293.2 583,294.4 586,295.7 589,296.9 592,298.2 595,299.4 598,300.7 601,301.9 604,303.2 607,304.5 610,305.7 613,307 616,308.3 619,309.5 622,310.8 625,312.1 628,313.4 631,314.7 634,316 637,317.3 640,318.6 643,319.9 646,321.2 649,322.5 652,323.8 655,325.1 658,326.4 661,327.8 664,329.1 667,330.4 670,331.8 673,333.1 676,334.4 679,335.8 682,337.1 685,338.5 688,339.8 691,341.2 694,342.6 697,343.9 700,345.3 703,346.6 706,348 709,349.4 712,350.7 715,352.1 718,353.5 721,354.9 724,356.2 727,357.6 730,359 733,360.4 736,361.7 739,363.1 742,364.5 745,365.9 748,367.3 751,368.6 754,370 757,371.4 760,372.8 763,374.2 766,375.5 769,376.9 772,378.3 775,379.7 778,381 781,382.4 784,383.8 787,385.1 790,386.5 793,387.9 796,389.2 799,390.6 802,392 805,393.3 808,394.7 811,396 814,397.4 817,398.7 820,400.1 823,401.4 826,402.8 829,404.1 832,405.4 835,406.8 838,408.1 841,409.4 844,410.8 847,412.1 850,413.4 853,414.7 856,416.1 859,417.4 862,418.7 865,420 868,421.3 871,422.6 874,423.9 877,425.2 880,426.5 883,427.8 886,429.1 889,430.4 892,431.7 895,433 898,434.3 901,435.6 904,436.9 907,438.1 910,439.4 913,440.7 916,442 919,443.2 922,444.5 925,445.8 928,447 931,448.3 934,449.5 937,450.8 940,452.1 943,453.3 946,454.5 949,455.8 952,457 955,458.3 958,459.5 961,460.7 964,462 967,463.2 970,464.4 973,465.7 976,466.9 979,468.1 982,469.3 985,470.5 988,471.7 991,472.9 994,474.2 997,475.4 1000,476.6 1003,477.8 1006,478.9 1009,480.1 1012,481.3 1015,482.5 1018,483.7 1021,484.9 1024,486.1 1027,487.2 1030,488.4 1033,489.6 1036,490.7 1039,491.9 1042,493.1 1045,494.2 1048,495.4 1051,496.5 1054,497.7 1057,498.8 1060,500 1063,501.1 1066,502.3 1069,503.4 1072,504.5 1075,505.6 1078,506.8 1081,507.9 1084,509 1087,510.1 1090,511.3 1093,512.4 1096,513.5 1099,514.6 1102,515.7 1105,516.8 1108,517.9 1111,519 1114,520.1 1117,521.1 1120,522.2 1123,523.3 1126,524.4 1129,525.5 1132,526.5 1135,527.6 1138,528.7 1141,529.7 1144,530.8 1147,531.9 1150,532.9 1153,534 1156,535 1159,536 1162,537.1 1165,538.1 1168,539.2 1171,540.2 1174,541.2 1177,542.2 1180,543.3 1183,544.3 1186,545.3 1189,546.3 1192,547.3 1195,548.3 1198,549.3 1201,550.3 1204,551.3 1207,552.3 1210,553.3 1213,554.3 1216,555.3 1219,556.2 1222,557.2 1225,558.2 1228,559.2 1231,560.1 1234,561.1 1237,562 1240,563 1243,563.9 1246,564.9 1249,565.8 1252,566.8 1255,567.7 1258,568.7 1261,569.6 1264,570.5 1267,571.4 1270,572.4 1273,573.3 1276,574.2 1279,575.1 1282,576 1285,576.9 1288,577.8 1291,578.7 1294,579.6 1297,580.5 1300,581.4 1303,582.3 1306,583.1 1309,584 1312,584.9 1315,585.8 1318,586.6 1321,587.5 1324,588.4 1327,589.2 1330,590.1 1333,590.9 1336,591.8 1339,592.6 1342,593.5 1345,594.3 1348,595.1 1351,596 1354,596.8 1357,597.6 1360,598.4 1363,599.3 1366,600.1 1369,600.9 1372,601.7 1375,602.5 1378,603.3 1381,604.1 1384,604.9 1387,605.7 1390,606.5 1393,607.3 1396,608.1 1399,608.8 1402,609.6 1405,610.4 1408,611.2 1411,611.9 1414,612.7 1417,613.5 1420,614.2 1423,615 1426,615.7 1429,616.5 1432,617.2 1435,618 1438,618.7 1441,619.5 1444,620.2 1447,620.9 1450,621.7 1453,622.4 1456,623.1 1459,623.8 1462,624.6 1465,625.3 1468,626 1471,626.7 1474,627.4 1477,628.1 1480,628.8 1483,629.5 1486,630.2 1489,630.9 1492,631.6 1495,632.3 1498,633 1501,633.7 1504,634.3 1507,635 1510,635.7 1513,636.4 1516,637 1519,637.7 1522,638.3 1525,639 1528,639.7 1531,640.3 1534,641 1537,641.6 1540,642.3 1543,642.9 1546,643.6 1549,644.2 1552,644.8 1555,645.5 1558,646.1 1561,646.7 1564,647.3 1567,648 1570,648.6 1573,649.2 1576,649.8 1579,650.4 1582,651 1585,651.6 1588,652.2 1591,652.8 1594,653.4 1597,654 1600,654.6 1603,655.2 1606,655.8 1609,656.4 1612,657 1615,657.6 1618,658.1 1621,658.7 1624,659.3 1627,659.9 1630,660.4 1633,661 1636,661.6 1639,662.1 1642,662.7 1645,663.2 1648,663.8 1651,664.3 1654,664.9 1657,665.4 1660,666 1663,666.5 1666,667.1 1669,667.6 1672,668.1 1675,668.7 1678,669.2 1681,669.7 1684,670.2 1687,670.8 1690,671.3 1693,671.8"/>
<polyline class="cv" stroke="#bebe00" points="202,171 205,171.6 208,172.3 211,173 214,173.6 217,174.3 220,174.9 223,175.6 226,176.3 229,177 232,177.6 235,178.3 238,179 241,179.7 244,180.4 247,181.1 250,181.8 253,182.5 256,183.2 259,183.9 262,184.6 265,185.4 268,186.1 271,186.8 274,187.6 277,188.3 280,189.1 283,189.8 286,190.6 289,191.4 292,192.2 295,192.9 298,193.7 301,194.5 304,195.3 307,196.1 310,196.9 313,197.7 316,198.6 319,199.4 322,200.2 325,201.1 328,201.9 331,202.8 334,203.6 337,204.5 340,205.4 343,206.3 346,207.2 349,208.1 352,209 355,209.9 358,210.8 361,211.8 364,212.7 367,213.6 370,214.6 373,215.6 376,216.5 379,217.5 382,218.5 385,219.5 388,220.5 391,221.5 394,222.6 397,223.6 400,224.6 403,225.7 406,226.8 409,227.8 412,228.9 415,230 418,231.1 421,232.3 424,233.4 427,234.5 430,235.7 433,236.8 436,238 439,239.2 442,240.4 445,241.6 448,242.8 451,244 454,245.2 457,246.5 460,247.7 463,248.9 466,250.2 469,251.5 472,252.7 475,254 478,255.2 481,256.5 484,257.8 487,259.1 490,260.3 493,261.6 496,262.9 499,264.2 502,265.5 505,266.8 508,268 511,269.3 514,270.6 517,271.9 520,273.2 523,274.5 526,275.7 529,277 532,278.3 535,279.6 538,280.9 541,282.2 544,283.5 547,284.8 550,286 553,287.3 556,288.6 559,289.9 562,291.2 565,292.5 568,293.8 571,295.1 574,296.4 577,297.7 580,299 583,300.3 586,301.5 589,302.8 592,304.1 595,305.4 598,306.7 601,308 604,309.3 607,310.6 610,311.9 613,313.2 616,314.5 619,315.8 622,317.1 625,318.4 628,319.7 631,321 634,322.3 637,323.6 640,324.9 643,326.3 646,327.6 649,328.9 652,330.2 655,331.5 658,332.8 661,334.1 664,335.4 667,336.7 670,338 673,339.4 676,340.7 679,342 682,343.3 685,344.6 688,345.9 691,347.2 694,348.6 697,349.9 700,351.2 703,352.5 706,353.8 709,355.2 712,356.5 715,357.8 718,359.1 721,360.5 724,361.8 727,363.1 730,364.4 733,365.8 736,367.1 739,368.4 742,369.7 745,371.1 748,372.4 751,373.7 754,375.1 757,376.4 760,377.7 763,379.1 766,380.4 769,381.7 772,383.1 775,384.4 778,385.8 781,387.1 784,388.4 787,389.8 790,391.1 793,392.5 796,393.8 799,395.1 802,396.5 805,397.8 808,399.2 811,400.5 814,401.9 817,403.2 820,404.6 823,405.9 826,407.3 829,408.6 832,410 835,411.3 838,412.6 841,414 844,415.3 847,416.7 850,418 853,419.3 856,420.7 859,422 862,423.4 865,424.7 868,426 871,427.4 874,428.7 877,430 880,431.3 883,432.7 886,434 889,435.3 892,436.6 895,437.9 898,439.2 901,440.5 904,441.8 907,443.1 910,444.4 913,445.7 916,447 919,448.3 922,449.6 925,450.8 928,452.1 931,453.4 934,454.6 937,455.9 940,457.2 943,458.4 946,459.6 949,460.9 952,462.1 955,463.4 958,464.6 961,465.8 964,467 967,468.2 970,469.4 973,470.6 976,471.8 979,473 982,474.2 985,475.4 988,476.6 991,477.8 994,478.9 997,480.1 1000,481.3 1003,482.4 1006,483.6 1009,484.8 1012,485.9 1015,487.1 1018,488.2 1021,489.3 1024,490.5 1027,491.6 1030,492.7 1033,493.9 1036,495 1039,496.1 1042,497.2 1045,498.3 1048,499.5 1051,500.6 1054,501.7 1057,502.8 1060,503.9 1063,505 1066,506.1 1069,507.2 1072,508.3 1075,509.3 1078,510.4 1081,511.5 1084,512.6 1087,513.7 1090,514.7 1093,515.8 1096,516.9 1099,518 1102,519 1105,520.1 1108,521.2 1111,522.2 1114,523.3 1117,524.4 1120,525.4 1123,526.5 1126,527.5 1129,528.6 1132,529.6 1135,530.7 1138,531.7 1141,532.7 1144,533.8 1147,534.8 1150,535.8 1153,536.9 1156,537.9 1159,538.9 1162,539.9 1165,541 1168,542 1171,543 1174,544 1177,545 1180,546 1183,547 1186,548 1189,549 1192,550 1195,551 1198,552 1201,553 1204,554 1207,554.9 1210,555.9 1213,556.9 1216,557.8 1219,558.8 1222,559.8 1225,560.7 1228,561.7 1231,562.6 1234,563.6 1237,564.5 1240,565.5 1243,566.4 1246,567.3 1249,568.3 1252,569.2 1255,570.1 1258,571 1261,571.9 1264,572.8 1267,573.7 1270,574.6 1273,575.5 1276,576.4 1279,577.3 1282,578.2 1285,579.1 1288,580 1291,580.9 1294,581.7 1297,582.6 1300,583.5 1303,584.3 1306,585.2 1309,586.1 1312,586.9 1315,587.8 1318,588.6 1321,589.5 1324,590.3 1327,591.1 1330,592 1333,592.8 1336,593.6 1339,594.5 1342,595.3 1345,596.1 1348,596.9 1351,597.7 1354,598.5 1357,599.3 1360,600.1 1363,600.9 1366,601.7 1369,602.5 1372,603.3 1375,604.1 1378,604.9 1381,605.7 1384,606.4 1387,607.2 1390,608 1393,608.8 1396,609.5 1399,610.3 1402,611.1 1405,611.8 1408,612.6 1411,613.3 1414,614.1 1417,614.8 1420,615.6 1423,616.3 1426,617 1429,617.8 1432,618.5 1435,619.2 1438,620 1441,620.7 1444,621.4 1447,622.1 1450,622.8 1453,623.6 1456,624.3 1459,625 1462,625.7 1465,626.4 1468,627.1 1471,627.8 1474,628.5 1477,629.2 1480,629.9 1483,630.6 1486,631.3 1489,631.9 1492,632.6 1495,633.3 1498,634 1501,634.7 1504,635.3 1507,636 1510,636.7 1513,637.3 1516,638 1519,638.7 1522,639.3 1525,640 1528,640.6 1531,641.3 1534,641.9 1537,642.6 1540,643.2 1543,643.9 1546,644.5 1549,645.2 1552,645.8 1555,646.4 1558,647.1 1561,647.7 1564,648.3 1567,649 1570,649.6 1573,650.2 1576,650.8 1579,651.5 1582,652.1 1585,652.7 1588,653.3 1591,653.9 1594,654.5 1597,655.1 1600,655.7 1603,656.4 1606,657 1609,657.6 1612,658.2 1615,658.8 1618,659.4 1621,660 1624,660.6 1627,661.1 1630,661.7 1633,662.3 1636,662.9 1639,663.5 1642,664.1 1645,664.7 1648,665.3 1651,665.8 1654,666.4 1657,667 1660,667.6 1663,668.1 1666,668.7 1669,669.3 1672,669.9 1675,670.4 1678,671 1681,671.6 1684,672.1 1687,672.7 1690,673.3 1693,673.8"/>
<rect x="810" y="123" width="1" height="273" fill="#bebe00"/>
<rect x="829" y="123" width="2" height="282" fill="#bebe00"/>
<polyline class="cv" stroke="#ff00ff" points="202,171 205,171.6 208,172.3 211,172.9 214,173.6 217,174.3 220,174.9 223,175.6 226,176.2 229,176.9 232,177.6 235,178.2 238,178.9 241,179.6 244,180.2 247,180.9 250,181.6 253,182.3 256,183 259,183.6 262,184.3 265,185 268,185.7 271,186.5 274,187.2 277,187.9 280,188.6 283,189.3 286,190.1 289,190.8 292,191.5 295,192.3 298,193 301,193.8 304,194.6 307,195.3 310,196.1 313,196.9 316,197.7 319,198.5 322,199.3 325,200.1 328,200.9 331,201.8 334,202.6 337,203.5 340,204.3 343,205.2 346,206 349,206.9 352,207.8 355,208.7 358,209.6 361,210.5 364,211.4 367,212.4 370,213.3 373,214.3 376,215.2 379,216.2 382,217.2 385,218.2 388,219.2 391,220.2 394,221.2 397,222.2 400,223.2 403,224.3 406,225.3 409,226.4 412,227.5 415,228.6 418,229.6 421,230.7 424,231.9 427,233 430,234.1 433,235.3 436,236.4 439,237.6 442,238.7 445,239.9 448,241.1 451,242.3 454,243.5 457,244.7 460,245.9 463,247.1 466,248.3 469,249.5 472,250.7 475,252 478,253.2 481,254.4 484,255.7 487,256.9 490,258.2 493,259.4 496,260.7 499,261.9 502,263.2 505,264.4 508,265.7 511,266.9 514,268.2 517,269.4 520,270.7 523,271.9 526,273.2 529,274.4 532,275.7 535,277 538,278.2 541,279.5 544,280.7 547,282 550,283.3 553,284.5 556,285.8 559,287 562,288.3 565,289.6 568,290.8 571,292.1 574,293.4 577,294.6 580,295.9 583,297.2 586,298.5 589,299.7 592,301 595,302.3 598,303.6 601,304.8 604,306.1 607,307.4 610,308.7 613,310 616,311.3 619,312.6 622,313.8 625,315.1 628,316.4 631,317.7 634,319 637,320.3 640,321.6 643,322.9 646,324.2 649,325.5 652,326.8 655,328.1 658,329.4 661,330.7 664,332 667,333.3 670,334.6 673,336 676,337.3 679,338.6 682,339.9 685,341.2 688,342.5 691,343.9 694,345.2 697,346.5 700,347.8 703,349.2 706,350.5 709,351.8 712,353.1 715,354.5 718,355.8 721,357.1 724,358.5 727,359.8 730,361.1 733,362.5 736,363.8 739,365.1 742,366.5 745,367.8 748,369.2 751,370.5 754,371.8 757,373.2 760,374.5 763,375.9 766,377.2 769,378.6 772,379.9 775,381.3 778,382.6 781,384 784,385.3 787,386.7 790,388 793,389.4 796,390.7 799,392.1 802,393.4 805,394.8 808,396.1 811,397.5 814,398.8 817,400.2 820,401.5 823,402.9 826,404.2 829,405.6 832,406.9 835,408.3 838,409.6 841,411 844,412.3 847,413.6 850,415 853,416.3 856,417.7 859,419 862,420.4 865,421.7 868,423 871,424.4 874,425.7 877,427 880,428.3 883,429.7 886,431 889,432.3 892,433.6 895,435 898,436.3 901,437.6 904,438.9 907,440.2 910,441.5 913,442.8 916,444.1 919,445.4 922,446.7 925,447.9 928,449.2 931,450.5 934,451.8 937,453 940,454.3 943,455.6 946,456.8 949,458.1 952,459.3 955,460.6 958,461.8 961,463.1 964,464.3 967,465.5 970,466.7 973,468 976,469.2 979,470.4 982,471.6 985,472.8 988,474 991,475.2 994,476.4 997,477.6 1000,478.8 1003,480 1006,481.2 1009,482.4 1012,483.5 1015,484.7 1018,485.9 1021,487.1 1024,488.2 1027,489.4 1030,490.6 1033,491.7 1036,492.9 1039,494.1 1042,495.2 1045,496.4 1048,497.5 1051,498.7 1054,499.8 1057,501 1060,502.1 1063,503.3 1066,504.4 1069,505.6 1072,506.7 1075,507.9 1078,509 1081,510.2 1084,511.3 1087,512.4 1090,513.6 1093,514.7 1096,515.9 1099,517 1102,518.2 1105,519.3 1108,520.4 1111,521.6 1114,522.7 1117,523.9 1120,525 1123,526.1 1126,527.3 1129,528.4 1132,529.5 1135,530.7 1138,531.8 1141,532.9 1144,534 1147,535.2 1150,536.3 1153,537.4 1156,538.5 1159,539.6 1162,540.7 1165,541.9 1168,543 1171,544.1 1174,545.2 1177,546.3 1180,547.3 1183,548.4 1186,549.5 1189,550.6 1192,551.7 1195,552.8 1198,553.8 1201,554.9 1204,555.9 1207,557 1210,558.1 1213,559.1 1216,560.1 1219,561.2 1222,562.2 1225,563.2 1228,564.3 1231,565.3 1234,566.3 1237,567.3 1240,568.3 1243,569.3 1246,570.3 1249,571.2 1252,572.2 1255,573.2 1258,574.1 1261,575.1 1264,576 1267,577 1270,577.9 1273,578.9 1276,579.8 1279,580.7 1282,581.6 1285,582.6 1288,583.5 1291,584.4 1294,585.3 1297,586.2 1300,587.1 1303,587.9 1306,588.8 1309,589.7 1312,590.6 1315,591.5 1318,592.3 1321,593.2 1324,594.1 1327,594.9 1330,595.8 1333,596.6 1336,597.5 1339,598.3 1342,599.2 1345,600 1348,600.9 1351,601.7 1354,602.5 1357,603.4 1360,604.2 1363,605 1366,605.9 1369,606.7 1372,607.5 1375,608.3 1378,609.2 1381,610 1384,610.8 1387,611.6 1390,612.5 1393,613.3 1396,614.1 1399,614.9 1402,615.7 1405,616.5 1408,617.4 1411,618.2 1414,619 1417,619.8 1420,620.6 1423,621.4 1426,622.3 1429,623.1 1432,623.9 1435,624.7 1438,625.5 1441,626.3 1444,627.1 1447,627.9 1450,628.7 1453,629.5 1456,630.3 1459,631.1 1462,631.9 1465,632.7 1468,633.5 1471,634.3 1474,635.1 1477,635.9 1480,636.7 1483,637.5 1486,638.3 1489,639.1 1492,639.9 1495,640.6 1498,641.4 1501,642.2 1504,643 1507,643.8 1510,644.6 1513,645.3 1516,646.1 1519,646.9 1522,647.6 1525,648.4 1528,649.2 1531,649.9 1534,650.7 1537,651.5 1540,652.2 1543,653 1546,653.7 1549,654.5 1552,655.2 1555,656 1558,656.7 1561,657.5 1564,658.2 1567,659 1570,659.7 1573,660.4 1576,661.2 1579,661.9 1582,662.6 1585,663.3 1588,664.1 1591,664.8 1594,665.5 1597,666.2 1600,666.9 1603,667.6 1606,668.3 1609,669 1612,669.7 1615,670.4 1618,671.1 1621,671.8 1624,672.5 1627,673.2 1630,673.9 1633,674.6 1636,675.3 1639,675.9 1642,676.6 1645,677.3 1648,677.9 1651,678.6 1654,679.3 1657,679.9 1660,680.6 1663,681.2 1666,681.9 1669,682.5 1672,683.1 1675,683.8 1678,684.4 1681,685 1684,685.7 1687,686.3 1690,686.9 1693,687.5"/>
<polyline class="cv" stroke="#ff00ff" points="202,171 205,171.6 208,172.2 211,172.8 214,173.5 217,174.1 220,174.8 223,175.5 226,176.1 229,176.8 232,177.5 235,178.2 238,179 241,179.7 244,180.4 247,181.2 250,182 253,182.8 256,183.5 259,184.3 262,185.2 265,186 268,186.8 271,187.7 274,188.5 277,189.4 280,190.3 283,191.2 286,192.1 289,193 292,193.9 295,194.8 298,195.8 301,196.7 304,197.7 307,198.7 310,199.6 313,200.6 316,201.7 319,202.7 322,203.7 325,204.7 328,205.8 331,206.9 334,207.9 337,209 340,210.1 343,211.2 346,212.3 349,213.4 352,214.6 355,215.7 358,216.9 361,218.1 364,219.2 367,220.4 370,221.6 373,222.8 376,224 379,225.3 382,226.5 385,227.8 388,229 391,230.3 394,231.6 397,232.9 400,234.2 403,235.5 406,236.8 409,238.2 412,239.5 415,240.8 418,242.2 421,243.6 424,245 427,246.4 430,247.8 433,249.2 436,250.6 439,252.1 442,253.5 445,255 448,256.4 451,257.9 454,259.4 457,260.9 460,262.4 463,263.9 466,265.4 469,266.9 472,268.5 475,270 478,271.6 481,273.1 484,274.7 487,276.3 490,277.8 493,279.4 496,281 499,282.6 502,284.2 505,285.9 508,287.5 511,289.1 514,290.8 517,292.4 520,294.1 523,295.7 526,297.4 529,299.1 532,300.7 535,302.4 538,304.1 541,305.8 544,307.5 547,309.2 550,310.9 553,312.6 556,314.4 559,316.1 562,317.8 565,319.6 568,321.3 571,323 574,324.8 577,326.5 580,328.3 583,330.1 586,331.8 589,333.6 592,335.4 595,337.1 598,338.9 601,340.7 604,342.5 607,344.3 610,346 613,347.8 616,349.6 619,351.4 622,353.2 625,355 628,356.8 631,358.6 634,360.4 637,362.2 640,364.1 643,365.9 646,367.7 649,369.5 652,371.3 655,373.1 658,374.9 661,376.8 664,378.6 667,380.4 670,382.2 673,384 676,385.8 679,387.7 682,389.5 685,391.3 688,393.1 691,394.9 694,396.7 697,398.6 700,400.4 703,402.2 706,404 709,405.8 712,407.6 715,409.4 718,411.2 721,413.1 724,414.9 727,416.7 730,418.5 733,420.3 736,422.1 739,423.9 742,425.7 745,427.4 748,429.2 751,431 754,432.8 757,434.6 760,436.4 763,438.1 766,439.9 769,441.7 772,443.4 775,445.2 778,447 781,448.7 784,450.5 787,452.2 790,454 793,455.7 796,457.4 799,459.2 802,460.9 805,462.6 808,464.3 811,466.1 814,467.8 817,469.5 820,471.2 823,472.9 826,474.6 829,476.3 832,477.9 835,479.6 838,481.3 841,483 844,484.6 847,486.3 850,488 853,489.6 856,491.3 859,492.9 862,494.5 865,496.2 868,497.8 871,499.4 874,501 877,502.7 880,504.3 883,505.9 886,507.5 889,509.1 892,510.7 895,512.3 898,513.8 901,515.4 904,517 907,518.6 910,520.1 913,521.7 916,523.3 919,524.8 922,526.3 925,527.9 928,529.4 931,531 934,532.5 937,534 940,535.5 943,537 946,538.5 949,540 952,541.5 955,543 958,544.5 961,546 964,547.5 967,549 970,550.4 973,551.9 976,553.3 979,554.8 982,556.2 985,557.7 988,559.1 991,560.6 994,562 997,563.4 1000,564.8 1003,566.2 1006,567.6 1009,569 1012,570.4 1015,571.8 1018,573.2 1021,574.6 1024,576 1027,577.3 1030,578.7 1033,580.1 1036,581.4 1039,582.8 1042,584.1 1045,585.5 1048,586.8 1051,588.1 1054,589.4 1057,590.8 1060,592.1 1063,593.4 1066,594.7 1069,596 1072,597.3 1075,598.5 1078,599.8 1081,601.1 1084,602.4 1087,603.6 1090,604.9 1093,606.1 1096,607.4 1099,608.6 1102,609.9 1105,611.1 1108,612.3 1111,613.5 1114,614.8 1117,616 1120,617.2 1123,618.4 1126,619.6 1129,620.7 1132,621.9 1135,623.1 1138,624.3 1141,625.4 1144,626.6 1147,627.7 1150,628.9 1153,630 1156,631.2 1159,632.3 1162,633.4 1165,634.5 1168,635.6 1171,636.7 1174,637.8 1177,638.9 1180,640 1183,641.1 1186,642.2 1189,643.2 1192,644.3 1195,645.4 1198,646.4 1201,647.5 1204,648.5 1207,649.5 1210,650.6 1213,651.6 1216,652.6 1219,653.6 1222,654.6 1225,655.6 1228,656.6 1231,657.6 1234,658.6 1237,659.6 1240,660.5 1243,661.5 1246,662.4 1249,663.4 1252,664.3 1255,665.3 1258,666.2 1261,667.1 1264,668 1267,669 1270,669.9 1273,670.8 1276,671.7 1279,672.6 1282,673.4 1285,674.3 1288,675.2 1291,676.1 1294,676.9 1297,677.8 1300,678.6 1303,679.5 1306,680.3 1309,681.1 1312,682 1315,682.8 1318,683.6 1321,684.4 1324,685.2 1327,686 1330,686.8 1333,687.6 1336,688.4 1339,689.2 1342,690 1345,690.7 1348,691.5 1351,692.3 1354,693 1357,693.8 1360,694.5 1363,695.3 1366,696 1369,696.7 1372,697.5 1375,698.2 1378,698.9 1381,699.6 1384,700.3 1387,701.1 1390,701.8 1393,702.4 1396,703.1 1399,703.8 1402,704.5 1405,705.2 1408,705.9 1411,706.5 1414,707.2 1417,707.9 1420,708.5 1423,709.2 1426,709.8 1429,710.5 1432,711.1 1435,711.8 1438,712.4 1441,713 1444,713.6 1447,714.3 1450,714.9 1453,715.5 1456,716.1 1459,716.7 1462,717.3 1465,717.9 1468,718.5 1471,719.1 1474,719.7 1477,720.3 1480,720.9 1483,721.4 1486,722 1489,722.6 1492,723.2 1495,723.7 1498,724.3 1501,724.8 1504,725.4 1507,726 1510,726.5 1513,727.1 1516,727.6 1519,728.1 1522,728.7 1525,729.2 1528,729.7 1531,730.3 1534,730.8 1537,731.3 1540,731.8 1543,732.4 1546,732.9 1549,733.4 1552,733.9 1555,734.4 1558,734.9 1561,735.4 1564,735.9 1567,736.4 1570,736.9 1573,737.4 1576,737.9 1579,738.4 1582,738.9 1585,739.3 1588,739.8 1591,740.3 1594,740.8 1597,741.3 1600,741.7 1603,742.2 1606,742.7 1609,743.1 1612,743.6 1615,744.1 1618,744.5 1621,745 1624,745.4 1627,745.9 1630,746.4 1633,746.8 1636,747.3 1639,747.7 1642,748.2 1645,748.6 1648,749 1651,749.5 1654,749.9 1657,750.4 1660,750.8 1663,751.2 1666,751.7 1669,752.1 1672,752.5 1675,753 1678,753.4 1681,753.8 1684,754.3 1687,754.7 1690,755.1 1693,755.6"/>
<rect x="847" y="155" width="2" height="259" fill="#ff00ff"/>
<rect x="867" y="155" width="1" height="343" fill="#ff00ff"/>
<polyline class="cv" stroke="#00ffff" points="202,171 205,171.7 208,172.3 211,173 214,173.7 217,174.4 220,175.1 223,175.8 226,176.5 229,177.3 232,178 235,178.8 238,179.6 241,180.3 244,181.1 247,182 250,182.8 253,183.6 256,184.5 259,185.3 262,186.2 265,187.1 268,188 271,188.9 274,189.8 277,190.8 280,191.7 283,192.7 286,193.6 289,194.6 292,195.6 295,196.6 298,197.7 301,198.7 304,199.7 307,200.8 310,201.9 313,203 316,204.1 319,205.2 322,206.3 325,207.5 328,208.6 331,209.8 334,211 337,212.2 340,213.4 343,214.6 346,215.8 349,217.1 352,218.3 355,219.6 358,220.9 361,222.2 364,223.5 367,224.8 370,226.2 373,227.5 376,228.9 379,230.3 382,231.7 385,233.1 388,234.6 391,236 394,237.5 397,238.9 400,240.4 403,241.9 406,243.4 409,245 412,246.5 415,248.1 418,249.7 421,251.2 424,252.9 427,254.5 430,256.1 433,257.8 436,259.4 439,261.1 442,262.8 445,264.5 448,266.2 451,267.9 454,269.7 457,271.4 460,273.2 463,275 466,276.8 469,278.6 472,280.4 475,282.2 478,284 481,285.8 484,287.7 487,289.5 490,291.4 493,293.3 496,295.1 499,297 502,298.9 505,300.8 508,302.7 511,304.6 514,306.5 517,308.5 520,310.4 523,312.3 526,314.3 529,316.2 532,318.2 535,320.1 538,322.1 541,324.1 544,326 547,328 550,330 553,332 556,334 559,336 562,338 565,340 568,342 571,344.1 574,346.1 577,348.1 580,350.2 583,352.2 586,354.2 589,356.3 592,358.4 595,360.4 598,362.5 601,364.5 604,366.6 607,368.7 610,370.8 613,372.8 616,374.9 619,377 622,379.1 625,381.2 628,383.3 631,385.4 634,387.5 637,389.6 640,391.7 643,393.8 646,396 649,398.1 652,400.2 655,402.3 658,404.5 661,406.6 664,408.7 667,410.8 670,413 673,415.1 676,417.3 679,419.4 682,421.5 685,423.7 688,425.8 691,428 694,430.1 697,432.3 700,434.4 703,436.6 706,438.7 709,440.9 712,443 715,445.2 718,447.3 721,449.5 724,451.6 727,453.8 730,455.9 733,458 736,460.2 739,462.3 742,464.5 745,466.6 748,468.8 751,470.9 754,473.1 757,475.2 760,477.3 763,479.5 766,481.6 769,483.7 772,485.9 775,488 778,490.1 781,492.2 784,494.3 787,496.5 790,498.6 793,500.7 796,502.8 799,504.9 802,507 805,509.1 808,511.2 811,513.3 814,515.4 817,517.5 820,519.5 823,521.6 826,523.7 829,525.8 832,527.8 835,529.9 838,532 841,534 844,536.1 847,538.1 850,540.2 853,542.2 856,544.2 859,546.3 862,548.3 865,550.3 868,552.3 871,554.3 874,556.4 877,558.4 880,560.4 883,562.4 886,564.4 889,566.3 892,568.3 895,570.3 898,572.3 901,574.2 904,576.2 907,578.2 910,580.1 913,582.1 916,584 919,586 922,587.9 925,589.8 928,591.8 931,593.7 934,595.6 937,597.5 940,599.4 943,601.3 946,603.2 949,605.1 952,607 955,608.8 958,610.7 961,612.6 964,614.4 967,616.3 970,618.1 973,620 976,621.8 979,623.7 982,625.5 985,627.3 988,629.1 991,630.9 994,632.7 997,634.5 1000,636.3 1003,638.1 1006,639.9 1009,641.6 1012,643.4 1015,645.2 1018,646.9 1021,648.7 1024,650.4 1027,652.1 1030,653.9 1033,655.6 1036,657.3 1039,659 1042,660.7 1045,662.4 1048,664.1 1051,665.7 1054,667.4 1057,669.1 1060,670.7 1063,672.4 1066,674 1069,675.7 1072,677.3 1075,678.9 1078,680.5 1081,682.1 1084,683.7 1087,685.3 1090,686.9 1093,688.5 1096,690.1 1099,691.6 1102,693.2 1105,694.7 1108,696.3 1111,697.8 1114,699.3 1117,700.8 1120,702.3 1123,703.8 1126,705.3 1129,706.8 1132,708.3 1135,709.8 1138,711.2 1141,712.7 1144,714.1 1147,715.6 1150,717 1153,718.4 1156,719.9 1159,721.3 1162,722.7 1165,724.1 1168,725.5 1171,726.8 1174,728.2 1177,729.6 1180,730.9 1183,732.3 1186,733.6 1189,735 1192,736.3 1195,737.6 1198,739 1201,740.3 1204,741.6 1207,742.9 1210,744.2 1213,745.4 1216,746.7 1219,748 1222,749.2 1225,750.5 1228,751.7 1231,753 1234,754.2 1237,755.4 1240,756.7 1243,757.9 1246,759.1 1249,760.3 1252,761.5 1255,762.7 1258,763.8 1261,765 1264,766.2 1267,767.3 1270,768.5 1273,769.6 1276,770.8 1279,771.9 1282,773 1285,774.1 1288,775.3 1291,776.4 1294,777.5 1297,778.6 1300,779.6 1303,780.7 1306,781.8 1309,782.9 1312,783.9 1315,785 1318,786 1321,787.1 1324,788.1 1327,789.1 1330,790.2 1333,791.2 1336,792.2 1339,793.2 1342,794.2 1345,795.2 1348,796.2 1351,797.2 1354,798.1 1357,799.1 1360,800.1 1363,801 1366,802 1369,802.9 1372,803.9 1375,804.8 1378,805.7 1381,806.7 1384,807.6 1387,808.5 1390,809.4 1393,810.3 1396,811.2 1399,812.1 1402,813 1405,813.9 1408,814.8 1411,815.6 1414,816.5 1417,817.4 1420,818.2 1423,819.1 1426,819.9 1429,820.7 1432,821.6 1435,822.4 1438,823.2 1441,824.1 1444,824.9 1447,825.7 1450,826.5 1453,827.3 1456,828.1 1459,828.9 1462,829.7 1465,830.5 1468,831.2 1471,832 1474,832.8 1477,833.5 1480,834.3 1483,835.1 1486,835.8 1489,836.6 1492,837.3 1495,838 1498,838.8 1501,839.5 1504,840.2 1507,840.9 1510,841.7 1513,842.4 1516,843.1 1519,843.8 1522,844.5 1525,845.2 1528,845.9 1531,846.6 1534,847.2 1537,847.9 1540,848.6 1543,849.3 1546,849.9 1549,850.6 1552,851.3 1555,851.9 1558,852.6 1561,853.2 1564,853.9 1567,854.5 1570,855.2 1573,855.8 1576,856.4 1579,857.1 1582,857.7 1585,858.3 1588,858.9 1591,859.5 1594,860.1 1597,860.8 1600,861.4 1603,862 1606,862.6 1609,863.1 1612,863.7 1615,864.3 1618,864.9 1621,865.5 1624,866.1 1627,866.7 1630,867.2 1633,867.8 1636,868.4 1639,868.9 1642,869.5 1645,870 1648,870.6 1651,871.2 1654,871.7 1657,872.3 1660,872.8 1663,873.3 1666,873.9 1669,874.4 1672,875 1675,875.5 1678,876 1681,876.5 1684,877.1 1687,877.6 1690,878.1 1693,878.6"/>
<polyline class="cv" stroke="#00ffff" points="202,171 205,171.7 208,172.5 211,173.2 214,174 217,174.8 220,175.5 223,176.3 226,177.1 229,177.9 232,178.7 235,179.6 238,180.4 241,181.2 244,182.1 247,183 250,183.8 253,184.7 256,185.6 259,186.5 262,187.5 265,188.4 268,189.3 271,190.3 274,191.3 277,192.3 280,193.2 283,194.3 286,195.3 289,196.3 292,197.4 295,198.4 298,199.5 301,200.6 304,201.7 307,202.8 310,203.9 313,205.1 316,206.2 319,207.4 322,208.6 325,209.8 328,211 331,212.3 334,213.5 337,214.8 340,216.1 343,217.4 346,218.7 349,220 352,221.4 355,222.8 358,224.2 361,225.6 364,227 367,228.4 370,229.9 373,231.3 376,232.8 379,234.3 382,235.8 385,237.3 388,238.9 391,240.4 394,242 397,243.6 400,245.2 403,246.8 406,248.4 409,250.1 412,251.7 415,253.4 418,255.1 421,256.8 424,258.5 427,260.2 430,261.9 433,263.7 436,265.4 439,267.2 442,268.9 445,270.7 448,272.5 451,274.3 454,276.2 457,278 460,279.8 463,281.7 466,283.5 469,285.4 472,287.3 475,289.2 478,291.1 481,293 484,294.9 487,296.8 490,298.8 493,300.7 496,302.7 499,304.6 502,306.6 505,308.6 508,310.5 511,312.5 514,314.5 517,316.6 520,318.6 523,320.6 526,322.6 529,324.7 532,326.7 535,328.8 538,330.8 541,332.9 544,334.9 547,337 550,339.1 553,341.2 556,343.3 559,345.4 562,347.5 565,349.6 568,351.7 571,353.8 574,355.9 577,358.1 580,360.2 583,362.3 586,364.5 589,366.6 592,368.8 595,370.9 598,373.1 601,375.2 604,377.4 607,379.5 610,381.7 613,383.9 616,386 619,388.2 622,390.4 625,392.6 628,394.7 631,396.9 634,399.1 637,401.3 640,403.5 643,405.6 646,407.8 649,410 652,412.2 655,414.4 658,416.6 661,418.8 664,421 667,423.1 670,425.3 673,427.5 676,429.7 679,431.9 682,434.1 685,436.2 688,438.4 691,440.6 694,442.8 697,445 700,447.1 703,449.3 706,451.5 709,453.6 712,455.8 715,458 718,460.1 721,462.3 724,464.4 727,466.6 730,468.7 733,470.9 736,473 739,475.2 742,477.3 745,479.4 748,481.5 751,483.7 754,485.8 757,487.9 760,490 763,492.1 766,494.2 769,496.3 772,498.3 775,500.4 778,502.5 781,504.6 784,506.6 787,508.7 790,510.7 793,512.7 796,514.8 799,516.8 802,518.8 805,520.8 808,522.8 811,524.8 814,526.8 817,528.8 820,530.8 823,532.7 826,534.7 829,536.7 832,538.6 835,540.5 838,542.5 841,544.4 844,546.3 847,548.2 850,550.1 853,552 856,553.9 859,555.8 862,557.6 865,559.5 868,561.4 871,563.2 874,565.1 877,566.9 880,568.7 883,570.5 886,572.3 889,574.2 892,576 895,577.7 898,579.5 901,581.3 904,583.1 907,584.8 910,586.6 913,588.3 916,590.1 919,591.8 922,593.5 925,595.2 928,596.9 931,598.6 934,600.3 937,602 940,603.7 943,605.3 946,607 949,608.6 952,610.3 955,611.9 958,613.5 961,615.2 964,616.8 967,618.4 970,620 973,621.6 976,623.1 979,624.7 982,626.3 985,627.8 988,629.4 991,630.9 994,632.5 997,634 1000,635.5 1003,637 1006,638.5 1009,640 1012,641.5 1015,643 1018,644.4 1021,645.9 1024,647.3 1027,648.8 1030,650.2 1033,651.6 1036,653.1 1039,654.5 1042,655.9 1045,657.3 1048,658.7 1051,660 1054,661.4 1057,662.8 1060,664.1 1063,665.5 1066,666.8 1069,668.1 1072,669.4 1075,670.8 1078,672.1 1081,673.4 1084,674.6 1087,675.9 1090,677.2 1093,678.5 1096,679.7 1099,680.9 1102,682.2 1105,683.4 1108,684.6 1111,685.8 1114,687 1117,688.2 1120,689.4 1123,690.6 1126,691.8 1129,692.9 1132,694.1 1135,695.2 1138,696.4 1141,697.5 1144,698.6 1147,699.7 1150,700.8 1153,701.9 1156,703 1159,704.1 1162,705.2 1165,706.2 1168,707.3 1171,708.3 1174,709.4 1177,710.4 1180,711.4 1183,712.5 1186,713.5 1189,714.5 1192,715.5 1195,716.5 1198,717.4 1201,718.4 1204,719.4 1207,720.3 1210,721.3 1213,722.2 1216,723.2 1219,724.1 1222,725 1225,725.9 1228,726.8 1231,727.7 1234,728.6 1237,729.5 1240,730.4 1243,731.3 1246,732.1 1249,733 1252,733.8 1255,734.7 1258,735.5 1261,736.3 1264,737.2 1267,738 1270,738.8 1273,739.6 1276,740.4 1279,741.2 1282,742 1285,742.7 1288,743.5 1291,744.3 1294,745 1297,745.8 1300,746.5 1303,747.3 1306,748 1309,748.8 1312,749.5 1315,750.2 1318,750.9 1321,751.6 1324,752.3 1327,753 1330,753.7 1333,754.4 1336,755.1 1339,755.7 1342,756.4 1345,757.1 1348,757.7 1351,758.4 1354,759 1357,759.7 1360,760.3 1363,760.9 1366,761.6 1369,762.2 1372,762.8 1375,763.4 1378,764 1381,764.6 1384,765.2 1387,765.8 1390,766.4 1393,767 1396,767.6 1399,768.2 1402,768.7 1405,769.3 1408,769.9 1411,770.4 1414,771 1417,771.5 1420,772.1 1423,772.6 1426,773.2 1429,773.7 1432,774.2 1435,774.8 1438,775.3 1441,775.8 1444,776.3 1447,776.9 1450,777.4 1453,777.9 1456,778.4 1459,778.9 1462,779.4 1465,779.9 1468,780.4 1471,780.9 1474,781.4 1477,781.9 1480,782.3 1483,782.8 1486,783.3 1489,783.8 1492,784.2 1495,784.7 1498,785.2 1501,785.7 1504,786.1 1507,786.6 1510,787 1513,787.5 1516,787.9 1519,788.4 1522,788.8 1525,789.3 1528,789.7 1531,790.2 1534,790.6 1537,791.1 1540,791.5 1543,791.9 1546,792.4 1549,792.8 1552,793.2 1555,793.7 1558,794.1 1561,794.5 1564,795 1567,795.4 1570,795.8 1573,796.2 1576,796.6 1579,797.1 1582,797.5 1585,797.9 1588,798.3 1591,798.7 1594,799.1 1597,799.5 1600,799.9 1603,800.3 1606,800.7 1609,801.1 1612,801.5 1615,801.9 1618,802.2 1621,802.6 1624,803 1627,803.4 1630,803.8 1633,804.1 1636,804.5 1639,804.9 1642,805.2 1645,805.6 1648,805.9 1651,806.3 1654,806.6 1657,807 1660,807.3 1663,807.6 1666,808 1669,808.3 1672,808.6 1675,809 1678,809.3 1681,809.6 1684,809.9 1687,810.2 1690,810.5 1693,810.8"/>
<rect x="1270" y="90" width="1" height="679" fill="#00ffff"/>
<rect x="1289" y="90" width="2" height="654" fill="#00ffff"/>
</g>
<text class="big" x="323.8" y="107" textLength="288" lengthAdjust="spacingAndGlyphs">TS 0.0000 (deg)</text>
<text class="big" x="360.8" y="140" textLength="288" lengthAdjust="spacingAndGlyphs">TS 2.0000 (deg)</text>
<text class="big" x="782.8" y="75" textLength="288" lengthAdjust="spacingAndGlyphs">TS 3.4000 (deg)</text>
<text class="big" x="819.8" y="107" textLength="288" lengthAdjust="spacingAndGlyphs">TS 6.1000 (deg)</text>
<text class="big" x="857.4" y="140" textLength="288" lengthAdjust="spacingAndGlyphs">TS 7.7000 (deg)</text>
<text class="big" x="1280.8" y="75" textLength="288" lengthAdjust="spacingAndGlyphs">TS 9.0000 (deg)</text>
<text class="tk" x="132.3" y="978.5" textLength="39.9" lengthAdjust="spacingAndGlyphs">0.0</text>
<text class="tk" x="132.3" y="898.2" textLength="39.9" lengthAdjust="spacingAndGlyphs">0.1</text>
<text class="tk" x="132.3" y="817.9" textLength="39.9" lengthAdjust="spacingAndGlyphs">0.2</text>
<text class="tk" x="132.3" y="737.6" textLength="39.9" lengthAdjust="spacingAndGlyphs">0.3</text>
<text class="tk" x="132.3" y="657.3" textLength="39.9" lengthAdjust="spacingAndGlyphs">0.4</text>
<text class="tk" x="132.3" y="577" textLength="39.9" lengthAdjust="spacingAndGlyphs">0.5</text>
<text class="tk" x="132.3" y="496.7" textLength="39.9" lengthAdjust="spacingAndGlyphs">0.6</text>
<text class="tk" x="132.3" y="416.4" textLength="39.9" lengthAdjust="spacingAndGlyphs">0.7</text>
<text class="tk" x="132.3" y="336.1" textLength="39.9" lengthAdjust="spacingAndGlyphs">0.8</text>
<text class="tk" x="132.3" y="255.8" textLength="39.9" lengthAdjust="spacingAndGlyphs">0.9</text>
<text class="tk" x="132.3" y="175.5" textLength="39.9" lengthAdjust="spacingAndGlyphs">1.0</text>
<text class="tk" x="195.35" y="1009.2" textLength="13.3" lengthAdjust="spacingAndGlyphs">0</text>
<text class="tk" x="331.05" y="1009.2" textLength="39.9" lengthAdjust="spacingAndGlyphs">3.7</text>
<text class="tk" x="480.05" y="1009.2" textLength="39.9" lengthAdjust="spacingAndGlyphs">7.4</text>
<text class="tk" x="622.4" y="1009.2" textLength="53.2" lengthAdjust="spacingAndGlyphs">11.1</text>
<text class="tk" x="771.4" y="1009.2" textLength="53.2" lengthAdjust="spacingAndGlyphs">14.8</text>
<text class="tk" x="920.4" y="1009.2" textLength="53.2" lengthAdjust="spacingAndGlyphs">18.5</text>
<text class="tk" x="1069.4" y="1009.2" textLength="53.2" lengthAdjust="spacingAndGlyphs">22.2</text>
<text class="tk" x="1218.4" y="1009.2" textLength="53.2" lengthAdjust="spacingAndGlyphs">25.9</text>
<text class="tk" x="1367.4" y="1009.2" textLength="53.2" lengthAdjust="spacingAndGlyphs">29.6</text>
<text class="tk" x="1516.4" y="1009.2" textLength="53.2" lengthAdjust="spacingAndGlyphs">33.3</text>
<text class="tk" x="1678.7" y="1009.2" textLength="26.6" lengthAdjust="spacingAndGlyphs">37</text>
<text class="ax" x="525" y="1061" textLength="849.32" lengthAdjust="spacingAndGlyphs">Spatial Frequency in cycles per mm</text>
<text class="ax" x="543.8" y="1140" textLength="723.26" lengthAdjust="spacingAndGlyphs">Polychromatic Diffraction MTF</text>
<text class="ax" transform="translate(93,805.3) rotate(-90)" textLength="450.54" lengthAdjust="spacingAndGlyphs">Modulus of the OTF</text>
</svg></body></html>
